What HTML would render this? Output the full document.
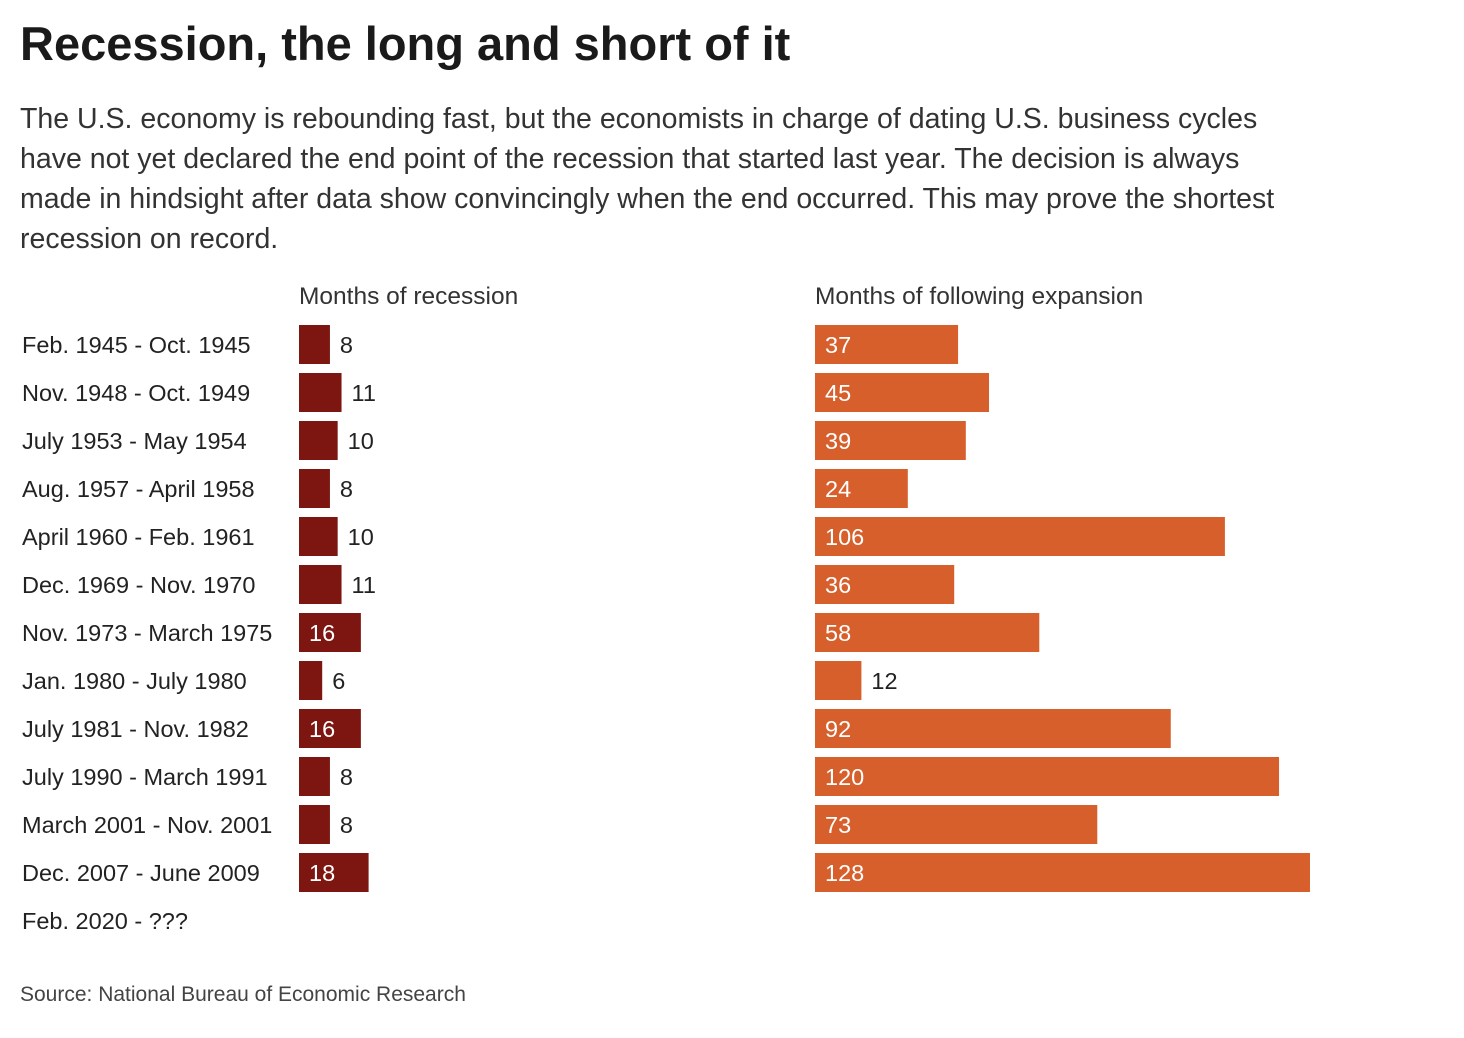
<!DOCTYPE html>
<html><head><meta charset="utf-8"><style>
body{margin:0;width:1464px;height:1038px;background:#fff;font-family:"Liberation Sans",sans-serif;color:#222;position:relative;overflow:hidden}
h1{position:absolute;left:20px;top:16px;margin:0;font-size:47px;font-weight:bold;letter-spacing:0px;color:#1a1a1a}
.sub{position:absolute;left:20px;top:99px;width:1400px;font-size:28.5px;line-height:40px;color:#333;margin:0;white-space:nowrap}
.src{position:absolute;left:20px;top:983px;font-size:21px;color:#444}
</style></head><body>
<h1>Recession, the long and short of it</h1>
<p class="sub">The U.S. economy is rebounding fast, but the economists in charge of dating U.S. business cycles<br>have not yet declared the end point of the recession that started last year. The decision is always<br>made in hindsight after data show convincingly when the end occurred. This may prove the shortest<br>recession on record.</p>
<svg id="chart" width="1464" height="1038" style="position:absolute;left:0;top:0"></svg>
<div class="src">Source: National Bureau of Economic Research</div>
<script>
const periods=["Feb. 1945 - Oct. 1945","Nov. 1948 - Oct. 1949","July 1953 - May 1954","Aug. 1957 - April 1958","April 1960 - Feb. 1961","Dec. 1969 - Nov. 1970","Nov. 1973 - March 1975","Jan. 1980 - July 1980","July 1981 - Nov. 1982","July 1990 - March 1991","March 2001 - Nov. 2001","Dec. 2007 - June 2009","Feb. 2020 - ???"];
const recession=[8,11,10,8,10,11,16,6,16,8,8,18,null];
const expansion=[37,45,39,24,106,36,58,12,92,120,73,128,null];
const headers=["Months of recession","Months of following expansion"];
const NS="http://www.w3.org/2000/svg";
const svg=document.getElementById('chart');
const scale=v=>v*3.867;
const rowY=i=>325+i*48;
const barH=39;
function el(t,a){const e=document.createElementNS(NS,t);for(const k in a)e.setAttribute(k,a[k]);svg.appendChild(e);return e;}
const h1=el('text',{x:299,y:304,'font-size':24.5,fill:'#333'});h1.textContent=headers[0];


const h2=el('text',{x:815,y:304,'font-size':24.5,fill:'#333'});h2.textContent=headers[1];


periods.forEach((p,i)=>{
  const y=rowY(i);
  const t=el('text',{x:22,y:y+28,'font-size':23.5,fill:'#222'});t.textContent=p;
  
  
  [[recession[i],299,'#7d1610','recession-bar'],[expansion[i],815,'#d65f2c','expansion-bar']].forEach(([v,x0,c,n])=>{
    if(v==null)return;
    const w=scale(v);
    const r=el('rect',{x:x0,y:y,width:w,height:barH,fill:c});
    
    
    const inside=v>=15;
    const tx=el('text',{x:inside?x0+10:x0+w+10,y:y+28,'font-size':23.5,fill:inside?'#fff':'#222'});
    tx.textContent=v;
    
    
  });
});
</script>
</body></html>
